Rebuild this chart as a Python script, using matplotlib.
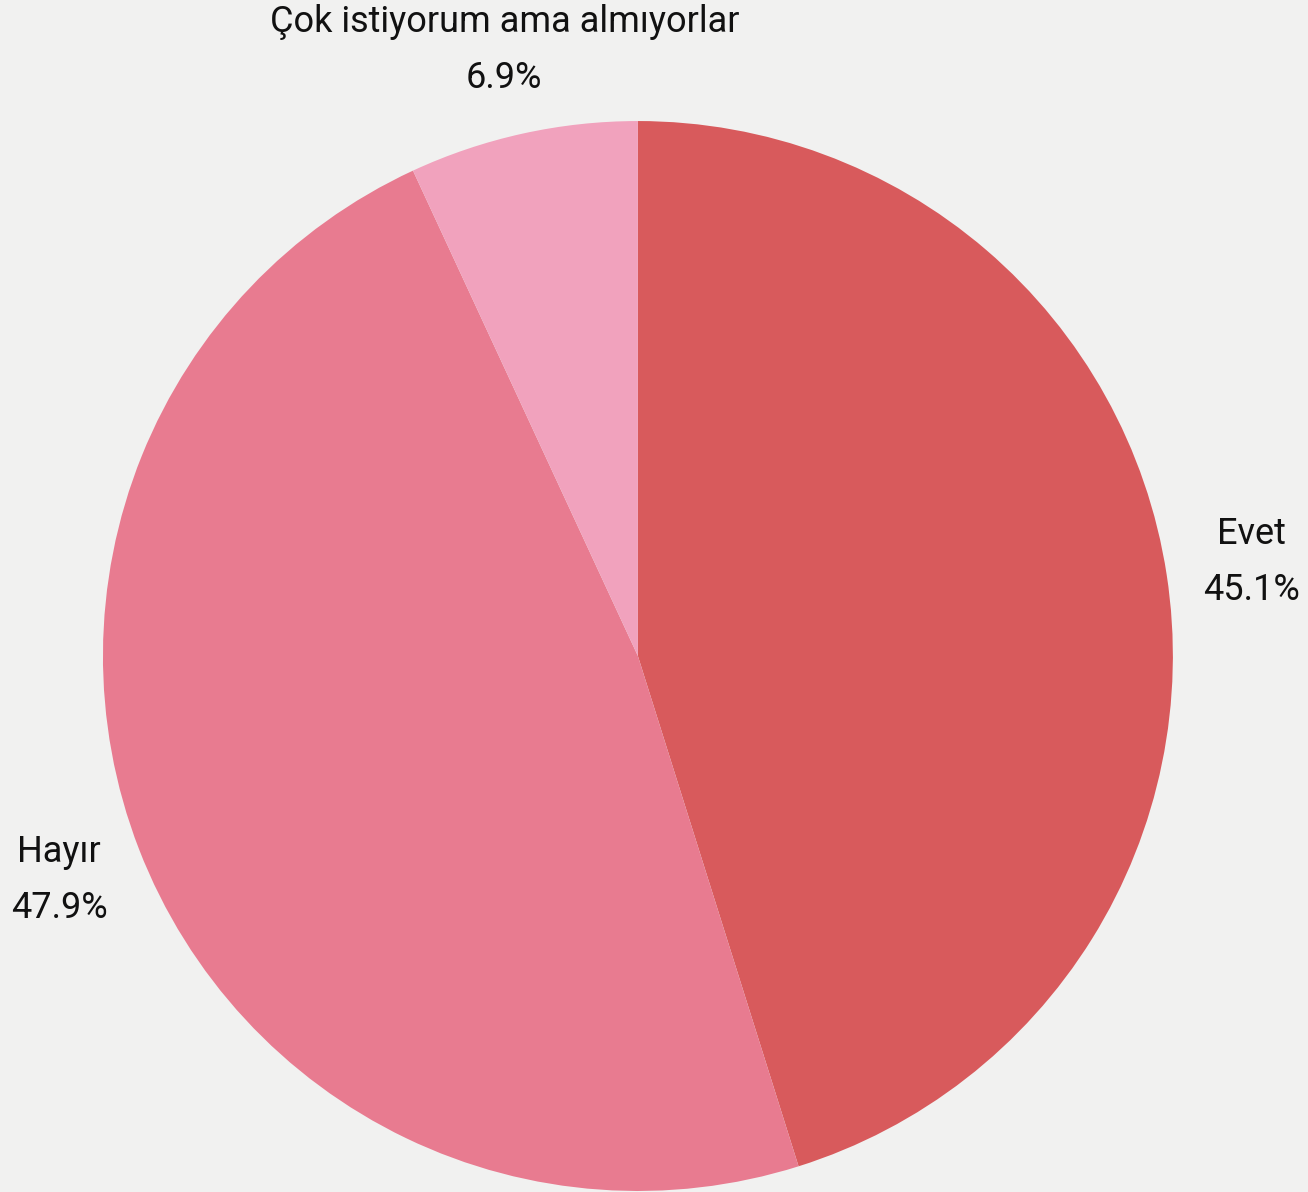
import matplotlib
matplotlib.use('Agg')
import matplotlib.pyplot as plt

labels = ['Evet', 'Hayır', 'Çok istiyorum ama almıyorlar']
values = [45.1, 47.9, 6.9]
colors = ['#d85a5c', '#e87b90', '#f1a2bd']

plt.rcParams['font.family'] = ['Roboto', 'DejaVu Sans']

fig = plt.figure(figsize=(13.08, 11.92), dpi=100)
fig.patch.set_facecolor('#f1f1f0')
ax = fig.add_axes([0.0787, 0.0008, 0.818, 0.8977])
ax.set_facecolor('none')

texts = ['%s\n%.1f%%' % (l, v) for l, v in zip(labels, values)]
wedges, lbls = ax.pie(values, colors=colors, labels=texts, startangle=90,
                      counterclock=False, labeldistance=1.16,
                      wedgeprops={'linewidth': 0},
                      textprops={'fontsize': 26, 'color': '#111111',
                                 'ha': 'center', 'va': 'center',
                                 'linespacing': 1.7})
for t in lbls:
    t.set_horizontalalignment('center')
ax.set_xlim(-1, 1)
ax.set_ylim(-1, 1)
ax.set_aspect('equal')

fig.savefig('out.png', dpi=100, facecolor=fig.get_facecolor())
